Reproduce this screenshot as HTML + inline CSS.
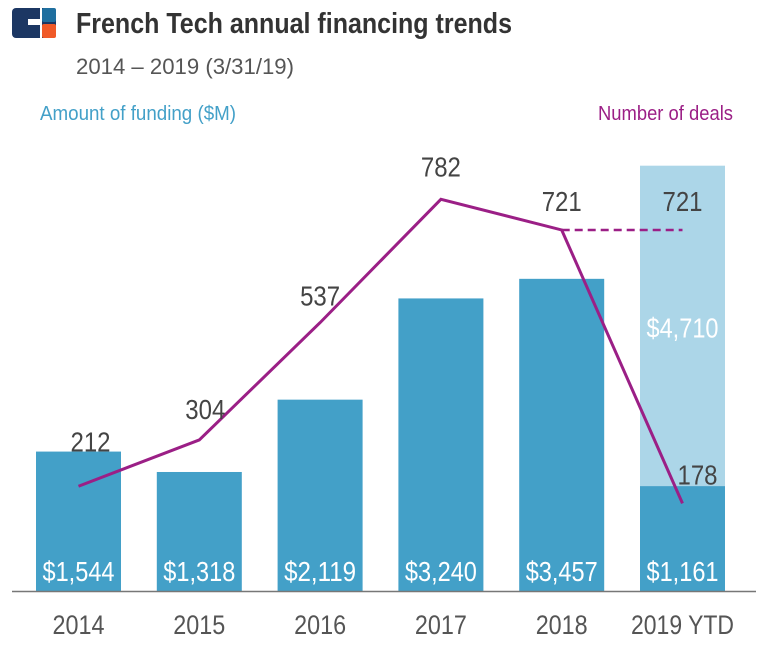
<!DOCTYPE html>
<html><head><meta charset="utf-8"><style>
body{margin:0;background:#fff;}
svg text{font-family:"Liberation Sans",sans-serif;}
</style></head><body>
<svg id="chart" width="768" height="644" xmlns="http://www.w3.org/2000/svg">
<g>
<rect x="12" y="8" width="44" height="30" rx="4" fill="#1c3763"/>
<rect x="42" y="8" width="14" height="14" rx="2" fill="#1f6f9f"/>
<rect x="42" y="24" width="14" height="14" rx="2" fill="#f05a28"/>
<rect x="28" y="19" width="14" height="6" fill="#fff"/>
<rect x="40" y="8" width="2" height="30" fill="#fff"/>
</g>
<text x="76" y="33" font-size="29" font-weight="bold" fill="#333" textLength="436" lengthAdjust="spacingAndGlyphs">French Tech annual financing trends</text>
<text x="76" y="74" font-size="22" fill="#555" textLength="218" lengthAdjust="spacingAndGlyphs">2014 – 2019 (3/31/19)</text>
<text x="40" y="120" font-size="20" fill="#43a0c8" textLength="196" lengthAdjust="spacingAndGlyphs">Amount of funding ($M)</text>
<text x="733" y="120" font-size="20" fill="#9b1f86" text-anchor="end" textLength="135" lengthAdjust="spacingAndGlyphs">Number of deals</text>
<g id="plot"></g>
</svg>
<script>
const categories = ["2014","2015","2016","2017","2018","2019 YTD"];
const funding = [1544,1318,2119,3240,3457,1161];
const fundingLabels = ["$1,544","$1,318","$2,119","$3,240","$3,457","$1,161"];
const projectedFunding = [0,0,0,0,0,4710];
const projectedLabels = ["","","","","","$4,710"];
const deals = [212,304,537,782,721,178];
const projectedDeals = [null,null,null,null,721,721];

const NS="http://www.w3.org/2000/svg";
const g=document.getElementById('plot');
const base=591, barW=85;
const xc=i=>78.5+i*120.8;
const yF=v=>base-v*0.0903;
const yD=v=>593-v*0.5035;
function mk(t,a,txt){const e=document.createElementNS(NS,t);for(const k in a)e.setAttribute(k,a[k]);if(txt!==undefined)e.textContent=txt;g.appendChild(e);return e;}

categories.forEach((c,i)=>{
  if(projectedFunding[i]>0){
    const r=mk('rect',{x:xc(i)-barW/2,y:yF(projectedFunding[i]),width:barW,height:base-yF(projectedFunding[i]),fill:'#acd6e8'});
    
    
    const t=mk('text',{x:xc(i),y:yF(projectedFunding[i])+172,'font-size':28,fill:'#fff','text-anchor':'middle',textLength:72,lengthAdjust:'spacingAndGlyphs'},projectedLabels[i]);
    
    
  }
  const b=mk('rect',{x:xc(i)-barW/2,y:yF(funding[i]),width:barW,height:base-yF(funding[i]),fill:'#43a0c8'});
  
  
  const l=mk('text',{x:xc(i),y:581,'font-size':28,fill:'#fff','text-anchor':'middle',textLength:72,lengthAdjust:'spacingAndGlyphs'},fundingLabels[i]);
  
  
  const xl=mk('text',{x:xc(i),y:634,'font-size':27,fill:'#555','text-anchor':'middle',textLength:c.length>4?103:52,lengthAdjust:'spacingAndGlyphs'},c);
  
  
});
const ax=mk('line',{x1:12,x2:756,y1:base+0.5,y2:base+0.5,stroke:'#777','stroke-width':1.5});



const pts=deals.map((d,i)=>xc(i)+','+yD(d)).join(' ');
const pl=mk('polyline',{points:pts,fill:'none',stroke:'#9b1f86','stroke-width':3});


const pp=[];projectedDeals.forEach((d,i)=>{if(d!==null)pp.push(xc(i)+','+yD(d));});
const dl=mk('polyline',{points:pp.join(' '),fill:'none',stroke:'#9b1f86','stroke-width':2.5,'stroke-dasharray':'8,5'});



const offs=[[12,-35],[6,-21],[0,-17],[0,-23],[0,-19],[15,-19]];
deals.forEach((d,i)=>{
  const t=mk('text',{x:xc(i)+offs[i][0],y:yD(d)+offs[i][1],'font-size':28,fill:'#444','text-anchor':'middle',textLength:40,lengthAdjust:'spacingAndGlyphs'},String(d));
  
  
});
const pt=mk('text',{x:xc(5),y:yD(projectedDeals[5])-19,'font-size':28,fill:'#444','text-anchor':'middle',textLength:40,lengthAdjust:'spacingAndGlyphs'},String(projectedDeals[5]));


</script>
</body></html>
